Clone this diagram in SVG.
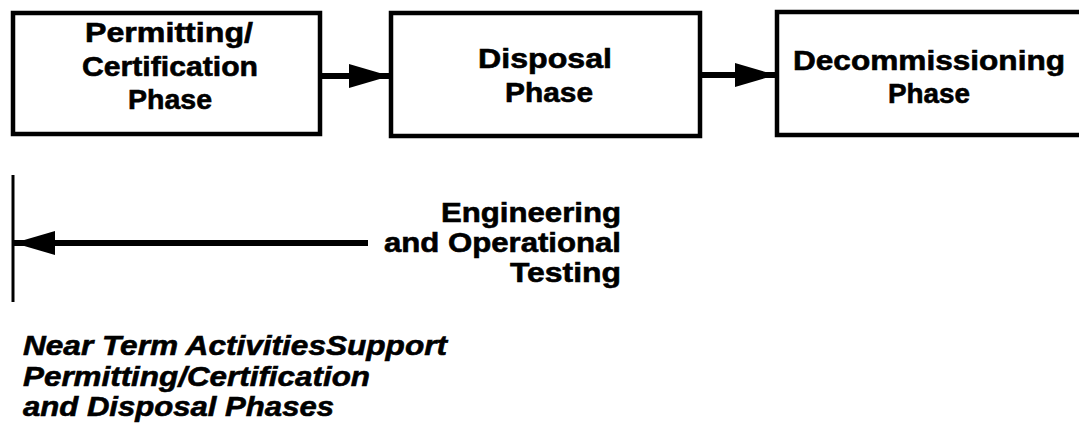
<svg xmlns="http://www.w3.org/2000/svg" width="1079" height="435" viewBox="0 0 1079 435">
  <style>
    .box { fill: #ffffff; stroke: #000000; stroke-width: 4.5; }
    .t { font-family: "Liberation Sans", Arial, Helvetica, sans-serif; font-weight: bold; font-size: 28px; fill: #000000; stroke: #000000; stroke-width: 0.6; }
    .c { text-anchor: middle; }
    .r { text-anchor: end; }
    .i { font-style: italic; }
    .conn { stroke: #000000; stroke-width: 6; fill: none; }
    .thin { stroke: #000000; stroke-width: 3; fill: none; }
  </style>
  <defs>
    <marker id="head" markerUnits="userSpaceOnUse" markerWidth="42" markerHeight="24" refX="41" refY="12" orient="auto" viewBox="0 0 42 24">
      <path d="M0,0 L41,12 L0,24 Z" fill="#000000"/>
    </marker>
  </defs>
  <rect width="1079" height="435" fill="#ffffff"/>

  <g id="permitting">
    <rect class="box" x="13" y="13" width="307" height="121"/>
    <text class="t c" x="169" y="42" textLength="168" lengthAdjust="spacingAndGlyphs">Permitting/</text>
    <text class="t c" x="170" y="76" textLength="176" lengthAdjust="spacingAndGlyphs">Certification</text>
    <text class="t c" x="170" y="109" textLength="84" lengthAdjust="spacingAndGlyphs">Phase</text>
  </g>

  <g id="disposal">
    <rect class="box" x="391" y="13" width="309" height="123"/>
    <text class="t c" x="545" y="68" textLength="134" lengthAdjust="spacingAndGlyphs">Disposal</text>
    <text class="t c" x="549" y="102" textLength="88" lengthAdjust="spacingAndGlyphs">Phase</text>
  </g>

  <g id="decommissioning">
    <rect class="box" x="777" y="12" width="320" height="123"/>
    <text class="t c" x="929" y="70" textLength="272" lengthAdjust="spacingAndGlyphs">Decommissioning</text>
    <text class="t c" x="929" y="103" textLength="82" lengthAdjust="spacingAndGlyphs">Phase</text>
  </g>

  <g id="testing">
    <text class="t r" x="621" y="222" textLength="180" lengthAdjust="spacingAndGlyphs">Engineering</text>
    <text class="t r" x="621" y="252" textLength="237" lengthAdjust="spacingAndGlyphs">and Operational</text>
    <text class="t r" x="621" y="282" textLength="111" lengthAdjust="spacingAndGlyphs">Testing</text>
  </g>

  <g id="near-term">
    <text class="t i" x="23" y="355" textLength="424" lengthAdjust="spacingAndGlyphs">Near Term ActivitiesSupport</text>
    <text class="t i" x="23" y="386" textLength="347" lengthAdjust="spacingAndGlyphs">Permitting/Certification</text>
    <text class="t i" x="23" y="416" textLength="311" lengthAdjust="spacingAndGlyphs">and Disposal Phases</text>
  </g>

  <g id="connectors">
    <line class="conn" x1="320" y1="76" x2="390" y2="76" marker-end="url(#head)"/>
    <line class="conn" x1="700" y1="75" x2="776" y2="75" marker-end="url(#head)"/>
    <line class="thin" x1="13" y1="175" x2="13" y2="302"/>
    <line class="conn" x1="368" y1="243" x2="14" y2="243" marker-end="url(#head)"/>
  </g>
</svg>
